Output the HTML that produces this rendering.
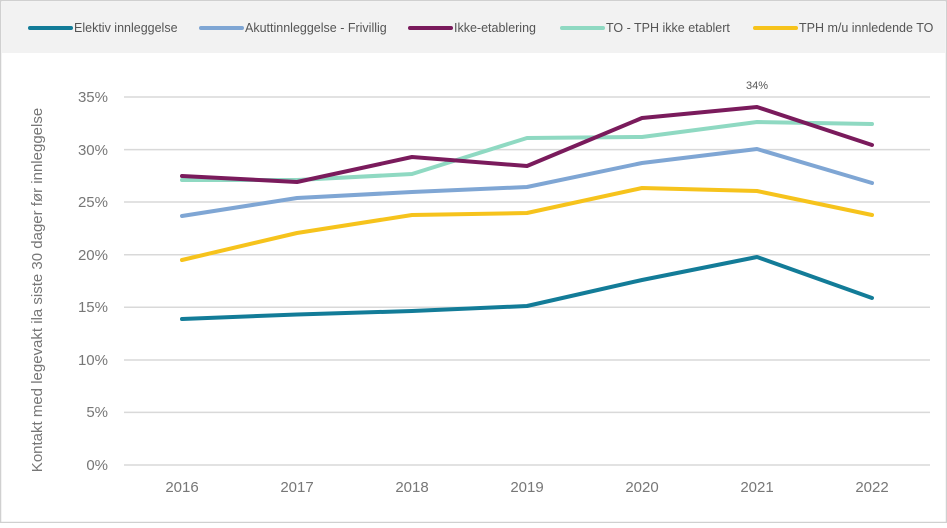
<!DOCTYPE html>
<html><head><style>
body{margin:0;width:947px;height:523px;overflow:hidden;background:#fff;font-family:"Liberation Sans",sans-serif}
</style></head><body>
<svg width="947" height="523" xmlns="http://www.w3.org/2000/svg" font-family="Liberation Sans, sans-serif">
<rect x="0.5" y="0.5" width="946" height="522" fill="#fff" stroke="#d0d0d0" stroke-width="1.5"/>
<rect x="2" y="2" width="943" height="51" fill="#f2f2f2"/>
<g font-size="12.5" fill="#555">
<line x1="30" y1="28" x2="71" y2="28" stroke="#137c98" stroke-width="4" stroke-linecap="round"/><text x="74" y="32">Elektiv innleggelse</text>
<line x1="201" y1="28" x2="242" y2="28" stroke="#7fa6d4" stroke-width="4" stroke-linecap="round"/><text x="245" y="32">Akuttinnleggelse - Frivillig</text>
<line x1="410" y1="28" x2="451" y2="28" stroke="#7a1b5c" stroke-width="4" stroke-linecap="round"/><text x="454" y="32">Ikke-etablering</text>
<line x1="562" y1="28" x2="603" y2="28" stroke="#8fd9c2" stroke-width="4" stroke-linecap="round"/><text x="606" y="32">TO - TPH ikke etablert</text>
<line x1="755" y1="28" x2="796" y2="28" stroke="#f6c31c" stroke-width="4" stroke-linecap="round"/><text x="799" y="32">TPH m/u innledende TO</text>
</g>
<g stroke="#d9d9d9" stroke-width="1.5">
<line x1="124" x2="930" y1="97" y2="97"/><line x1="124" x2="930" y1="149.6" y2="149.6"/><line x1="124" x2="930" y1="202" y2="202"/><line x1="124" x2="930" y1="254.7" y2="254.7"/><line x1="124" x2="930" y1="307.3" y2="307.3"/><line x1="124" x2="930" y1="360" y2="360"/><line x1="124" x2="930" y1="412.4" y2="412.4"/><line x1="124" x2="930" y1="465" y2="465"/>
</g>
<g font-size="15" fill="#777" text-anchor="end">
<text x="108" y="102">35%</text><text x="108" y="155">30%</text><text x="108" y="207">25%</text><text x="108" y="260">20%</text><text x="108" y="312">15%</text><text x="108" y="365">10%</text><text x="108" y="417">5%</text><text x="108" y="470">0%</text>
</g>
<g font-size="15" fill="#777" text-anchor="middle">
<text x="182" y="492">2016</text><text x="297" y="492">2017</text><text x="412" y="492">2018</text><text x="527" y="492">2019</text><text x="642" y="492">2020</text><text x="757" y="492">2021</text><text x="872" y="492">2022</text>
</g>
<text transform="translate(42,290) rotate(-90)" font-size="15" fill="#777" text-anchor="middle">Kontakt med legevakt ila siste 30 dager før innleggelse</text>
<text x="757" y="89" font-size="11" fill="#555" text-anchor="middle">34%</text>
<g fill="none" stroke-width="4" stroke-linejoin="round" stroke-linecap="round">
<polyline stroke="#137c98" points="182,319 297,314.5 412,311 527,306 642,280 757,257 872,298"/>
<polyline stroke="#7fa6d4" points="182,216 297,198 412,192 527,187 642,163 757,149 872,183"/>
<polyline stroke="#f6c31c" points="182,260 297,233 412,215 527,213 642,188 757,191 872,215"/>
<polyline stroke="#8fd9c2" points="182,180 297,180 412,174 527,138 642,137 757,122 872,124"/>
<polyline stroke="#7a1b5c" points="182,176 297,182 412,157 527,166 642,118 757,107 872,145"/>
</g>
</svg>
</body></html>
